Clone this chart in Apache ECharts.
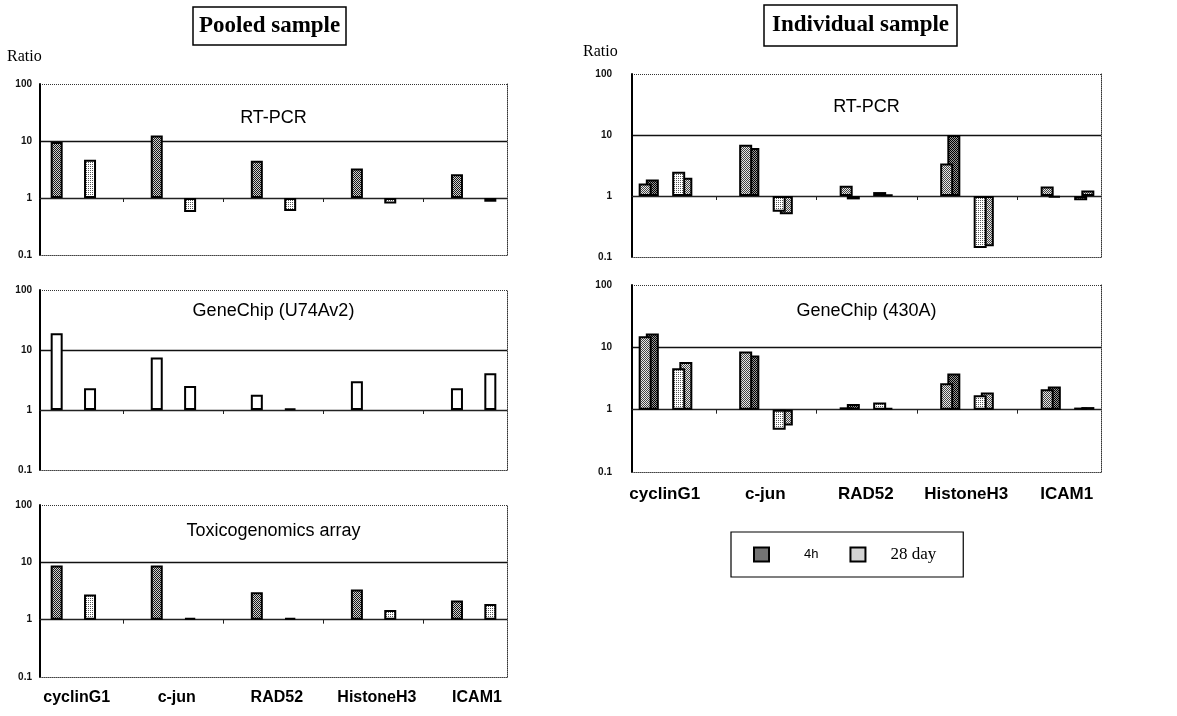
<!DOCTYPE html>
<html>
<head>
<meta charset="utf-8">
<title>Pooled vs individual sample</title>
<script src="https://cdn.jsdelivr.net/npm/echarts@6/dist/echarts.min.js"></script>
<style>
  html, body { margin: 0; padding: 0; background: #fff; }
  #chart { width: 1177px; height: 716px; }
</style>
</head>
<body>
<div id="chart"></div>
<script>
(function(){
    var genes = ['cyclinG1', 'c-jun', 'RAD52', 'HistoneH3', 'ICAM1'];
    var yTickLabels = ['0.1', '1', '10', '100'];

    // pooled sample (ratio to control)
    var pooledRtPcr4h  = [9.6, 12.5, 4.5, 3.3, 2.6];
    var pooledRtPcr28d = [4.7, 0.57, 0.59, 0.8, 0.86];
    var pooledU74_4h   = [19, 7.5, 1.8, 3.0, 2.3];
    var pooledU74_28d  = [2.3, 2.5, 1.05, null, 4.1];
    var pooledTox4h    = [8.8, 8.8, 3.0, 3.35, 2.17];
    var pooledTox28d   = [2.75, 1.07, 1.07, 1.48, 1.88];

    // individual sample: front bar (A) and back bar (B)
    var indRtPcr4hA  = [1.6, 6.9, 1.47, 3.4, 1.43];
    var indRtPcr4hB  = [1.87, 6.1, 0.88, 10, 0.94];
    var indRtPcr28dA = [2.5, 0.55, 1.16, 0.14, 0.85];
    var indRtPcr28dB = [2.0, 0.5, 1.05, 0.15, 1.23];
    var ind430_4hA   = [15, 8.6, 1.09, 2.65, 2.13];
    var ind430_4hB   = [16.7, 7.4, 1.23, 3.8, 2.35];
    var ind430_28dA  = [4.6, 0.475, 1.3, 1.7, 1.08];
    var ind430_28dB  = [5.8, 0.557, 1.07, 1.88, 1.1];

    var sans = "'Liberation Sans', Arial, sans-serif";
    var serif = "'Liberation Serif', 'Times New Roman', serif";

    // 14 slots: 4h, 28 day, gap for each gene (no gap after the last one)
    var slots = [];
    genes.forEach(function(g, i){
        slots.push(g + ' 4h');
        slots.push(g + ' 28 day');
        if (i < genes.length - 1) slots.push(g + ' gap');
    });

    function toSlots(vals, offset) {
        var arr = slots.map(function(){ return '-'; });
        vals.forEach(function(v, i){
            if (v != null) arr[i * 3 + offset] = Math.log10(v);
        });
        return arr;
    }

    function stipple(bg, fg, cells) {
        var c = document.createElement('canvas');
        c.width = 4; c.height = 4;
        var ctx = c.getContext('2d');
        ctx.fillStyle = bg; ctx.fillRect(0, 0, 4, 4);
        ctx.fillStyle = fg;
        cells.forEach(function(p){ ctx.fillRect(p[0], p[1], 1, 1); });
        return { image: c, repeat: 'repeat' };
    }
    var checker = [[0,0],[2,0],[1,1],[3,1],[0,2],[2,2],[1,3],[3,3]];
    var sparse = [[0,0],[2,2],[2,0],[0,2]];
    var darkDots = stipple('#cfcfcf', '#1a1a1a', checker);
    var midDots = stipple('#e8e8e8', '#444', checker);
    var lightDots = stipple('#ffffff', '#555', sparse);
    var blackDots = stipple('#999', '#000', checker);

    var panels = [
        { title: 'RT-PCR', left: 40, top: 84, width: 467, height: 171, titleTop: 109,
          kind: 'pooled', data: [pooledRtPcr4h, pooledRtPcr28d], fills: [darkDots, lightDots] },
        { title: 'GeneChip (U74Av2)', left: 40, top: 290, width: 467, height: 180, titleTop: 302,
          kind: 'pooled', data: [pooledU74_4h, pooledU74_28d], fills: ['#fff', '#fff'] },
        { title: 'Toxicogenomics array', left: 40, top: 505, width: 467, height: 172, titleTop: 522,
          kind: 'pooled', data: [pooledTox4h, pooledTox28d], fills: [darkDots, lightDots],
          labels: true, labelPad: 40, labelSize: 16, labelMargin: 13 },
        { title: 'RT-PCR', left: 632, top: 74, width: 469, height: 183, titleTop: 98,
          kind: 'individual', data: [indRtPcr4hA, indRtPcr28dA, indRtPcr4hB, indRtPcr28dB] },
        { title: 'GeneChip (430A)', left: 632, top: 285, width: 469, height: 187, titleTop: 302,
          kind: 'individual', data: [ind430_4hA, ind430_28dA, ind430_4hB, ind430_28dB],
          labels: true, labelPad: 32, labelSize: 17, labelMargin: 14 }
    ];

    var grids = [], xAxes = [], yAxes = [], series = [];
    var titles = [
        { text: 'Pooled sample', left: 193, top: 7, padding: [5, 6], borderColor: '#000', borderWidth: 1.5,
          textStyle: { fontFamily: serif, fontSize: 23, fontWeight: 'bold', color: '#000', lineHeight: 28 } },
        { text: 'Individual sample', left: 764, top: 5, padding: [6, 8], borderColor: '#000', borderWidth: 1.5,
          textStyle: { fontFamily: serif, fontSize: 23, fontWeight: 'bold', color: '#000', lineHeight: 29 } },
        { text: 'Ratio', left: 7, top: 49, padding: 0,
          textStyle: { fontFamily: serif, fontSize: 16, fontWeight: 'normal', color: '#000' } },
        { text: 'Ratio', left: 583, top: 44, padding: 0,
          textStyle: { fontFamily: serif, fontSize: 16, fontWeight: 'normal', color: '#000' } }
    ];

    panels.forEach(function(p, g){
        var right = g >= 3;
        grids.push({ left: p.left, top: p.top, width: p.width, height: p.height, containLabel: false });
        titles.push({ text: p.title, left: p.left + p.width / 2, textAlign: 'center', top: p.titleTop, padding: 0,
            textStyle: { fontFamily: sans, fontSize: 18, fontWeight: 'normal', color: '#000' } });

        // bottom axis: dotted frame edge + gene names
        xAxes.push({
            type: 'category', gridIndex: g, data: slots, position: 'bottom',
            axisLine: { onZero: false, lineStyle: { color: '#444', type: 'dotted', width: 1 } },
            axisTick: { show: false },
            splitLine: { show: false },
            axisLabel: p.labels ? {
                show: true, interval: 0, margin: p.labelMargin, padding: [0, 0, 0, p.labelPad],
                fontFamily: sans, fontWeight: 'bold', fontSize: p.labelSize, color: '#000',
                formatter: function(v, i){ return i % 3 === 0 ? genes[i / 3] : ''; }
            } : { show: false }
        });
        // axis through ratio 1 with small ticks between genes
        xAxes.push({
            type: 'category', gridIndex: g, data: slots, position: 'top',
            axisLine: { onZero: true, lineStyle: { color: '#222', width: 1.2 } },
            axisTick: { show: true, inside: true, alignWithLabel: true, length: 4,
                interval: function(i){ return i % 3 === 2; }, lineStyle: { color: '#222' } },
            axisLabel: { show: false },
            splitLine: { show: false }
        });
        yAxes.push({
            type: 'value', gridIndex: g, min: -1, max: 2, interval: 1, position: 'left',
            axisLine: { show: true, onZero: false, lineStyle: { color: '#000', width: 2 } },
            axisTick: { show: false },
            axisLabel: { fontFamily: sans, fontWeight: 'bold', fontSize: 10, color: '#111',
                margin: right ? 20 : 8,
                formatter: function(v){ return yTickLabels[Math.round(v) + 1]; } },
            splitLine: { show: true, lineStyle: { color: ['rgba(0,0,0,0)', '#222', '#111', 'rgba(0,0,0,0)'], width: 1.3 } }
        });
        yAxes.push({
            type: 'value', gridIndex: g, min: -1, max: 2, interval: 1, position: 'right',
            axisLine: { show: true, onZero: false, lineStyle: { color: '#333', type: 'dotted', width: 1 } },
            axisTick: { show: false },
            axisLabel: { show: false },
            splitLine: { show: true, lineStyle: { color: ['#333', 'rgba(0,0,0,0)', 'rgba(0,0,0,0)', '#333'], type: 'dotted', width: 1 } }
        });

        var xi = g * 2, yi = g * 2;
        if (p.kind === 'pooled') {
            ['4h', '28 day'].forEach(function(name, k){
                series.push({
                    type: 'bar', name: name, xAxisIndex: xi, yAxisIndex: yi,
                    stack: 'p' + g, barWidth: 12, z: 3,
                    data: toSlots(p.data[k], k),
                    itemStyle: { color: p.fills[k], borderColor: '#000', borderWidth: 2 }
                });
            });
        } else {
            var fills = [midDots, lightDots, blackDots, midDots];
            ['4h', '28 day', '4h', '28 day'].forEach(function(name, k){
                var front = k < 2;
                series.push({
                    type: 'bar', name: name, xAxisIndex: xi, yAxisIndex: yi,
                    stack: (front ? 'f' : 'b') + g, barWidth: 13, barGap: '-45%', z: front ? 3 : 2,
                    data: toSlots(p.data[k], k % 2),
                    itemStyle: { color: fills[k], borderColor: '#000', borderWidth: 2 }
                });
            });
        }
    });

    var chart = echarts.init(document.getElementById('chart'), null, { renderer: 'canvas' });
    chart.setOption({
        animation: false,
        backgroundColor: '#fff',
        title: titles,
        grid: grids,
        xAxis: xAxes,
        yAxis: yAxes,
        legend: {
            left: 731, top: 532, orient: 'horizontal', data: ['4h', '28 day'],
            icon: 'rect', itemWidth: 15, itemHeight: 14, itemGap: 31,
            padding: [14, 27, 14, 22], borderColor: '#000', borderWidth: 1.2,
            selectedMode: false,
            formatter: function(n){ return n === '4h' ? '{a|4h}' : '{b|28 day}'; },
            textStyle: { rich: {
                a: { fontFamily: sans, fontSize: 13, color: '#000', padding: [0, 0, 0, 30] },
                b: { fontFamily: serif, fontSize: 17, color: '#000', padding: [0, 0, 0, 20] }
            } }
        },
        series: series
    });
})();
</script>
</body>
</html>
